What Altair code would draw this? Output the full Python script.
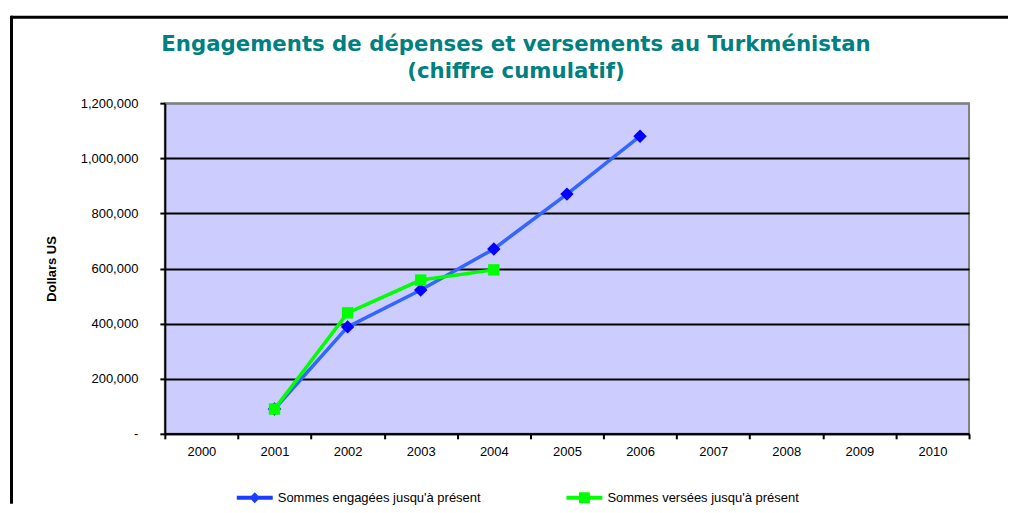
import altair as alt
import pandas as pd

# ---- data ----
years = [str(y) for y in range(2000, 2011)]
series_names = ["Sommes engagées jusqu'à présent", "Sommes versées jusqu'à présent"]

engagees_years = ["2001", "2002", "2003", "2004", "2005", "2006"]
engagees_vals = [90000, 388000, 522000, 671000, 870000, 1080000]

versees_years = ["2001", "2002", "2003", "2004"]
versees_vals = [90000, 439000, 558000, 595000]

y_ticks = [0, 200000, 400000, 600000, 800000, 1000000, 1200000]

title_lines = ["Engagements de dépenses et versements au Turkménistan", "(chiffre cumulatif)"]
y_title = "Dollars US"

line_colors = ["#3366FF", "#00FF00"]
marker_colors = ["#0000FF", "#00FF00"]
marker_shapes = ["diamond", "square"]
marker_sizes = [180, 130]
legend_shapes = [
    "M-1,-0.11L1,-0.11L1,0.11L-1,0.11Z M0,-0.3L0.3,0L0,0.3L-0.3,0Z",
    "M-1,-0.11L1,-0.11L1,0.11L-1,0.11Z M-0.3,-0.3L0.3,-0.3L0.3,0.3L-0.3,0.3Z",
]

rows = [{"year": y, "value": v, "series": series_names[0]} for y, v in zip(engagees_years, engagees_vals)]
rows += [{"year": y, "value": v, "series": series_names[1]} for y, v in zip(versees_years, versees_vals)]
df = pd.DataFrame(rows)
df["order"] = df["series"].map({series_names[0]: 0, series_names[1]: 1})

legend_df = pd.DataFrame({"series": series_names, "year": ["2000", "2000"], "value": [-600000, -600000]})

W, H = 805, 331
NB = "\u00a0"

x_enc = alt.X("year:O", scale=alt.Scale(type="band", domain=years, paddingInner=0, paddingOuter=0),
              axis=alt.Axis(title=None, labelAngle=0, tickBand="extent", grid=False))
y_enc = alt.Y("value:Q", scale=alt.Scale(domain=[0, 1200000], nice=False, zero=True),
              axis=alt.Axis(title=y_title, values=y_ticks, grid=True,
                            gridColor={"condition": {"test": "datum.value >= 1200000", "value": "#808080"},
                                       "value": "black"},
                            labelExpr="datum.value == 0 ? '-" + NB * 3 + "' : format(datum.value, ',')"))

one = pd.DataFrame({"a": [0]})
frame_top = alt.Chart(one).mark_rule(stroke="black", strokeWidth=3).encode(
    x=alt.value(-154), x2=alt.value(844), y=alt.value(-86)
)
frame_left = alt.Chart(one).mark_rule(stroke="black", strokeWidth=3).encode(
    x=alt.value(-153.5), y=alt.value(-87.5), y2=alt.value(401)
)

lines = alt.Chart(df).mark_line(strokeWidth=3.5).encode(
    x=x_enc, y=y_enc,
    stroke=alt.Stroke("series:N", scale=alt.Scale(domain=series_names, range=line_colors), legend=None),
    order="order:Q",
)

points = alt.Chart(df).mark_point(filled=True, opacity=1, strokeWidth=0).encode(
    x=x_enc, y=y_enc,
    fill=alt.Fill("series:N", scale=alt.Scale(domain=series_names, range=marker_colors), legend=None),
    shape=alt.Shape("series:N", scale=alt.Scale(domain=series_names, range=marker_shapes), legend=None),
    size=alt.Size("series:N", scale=alt.Scale(domain=series_names, range=marker_sizes), legend=None),
)

leg = alt.Legend(title=None, orient="none", legendX=72, legendY=377, direction="horizontal",
                 symbolSize=1296, labelFontSize=13, labelFont="Liberation Sans", labelColor="black",
                 labelOffset=5, labelLimit=0, columnPadding=85, symbolStrokeWidth=0)
legend_layer = alt.Chart(legend_df).mark_point(filled=True, opacity=1, clip=True, strokeWidth=0).encode(
    x=alt.X("year:O", scale=alt.Scale(type="band", domain=years, paddingInner=0, paddingOuter=0)),
    y=alt.Y("value:Q"),
    fill=alt.Fill("series:N", scale=alt.Scale(domain=series_names, range=["#1A3DFF", "#00FF00"]), legend=leg),
    shape=alt.Shape("series:N", scale=alt.Scale(domain=series_names, range=legend_shapes), legend=leg),
)

chart = alt.layer(frame_top, frame_left, lines, points, legend_layer).resolve_scale(
    fill="independent", shape="independent", size="independent"
).properties(
    width=W, height=H,
    background="white",
    padding={"left": 1, "top": 6, "right": 0, "bottom": 0},
    title=alt.TitleParams(text=title_lines, font="DejaVu Sans", fontSize=21.3, fontWeight="bold",
                          color="#008080", anchor="middle", dx=-51, offset=-68, lineHeight=27),
).configure_view(
    fill="#CCCCFF", stroke="#808080", strokeWidth=2
).configure_axis(
    labelFont="Liberation Sans", labelFontSize=13, labelColor="black",
    titleFont="Liberation Sans", titleFontSize=13, titleFontWeight="bold", titleColor="black",
    domainColor="black", domainWidth=2, tickColor="black", tickWidth=2, tickSize=5,
    gridWidth=2,
).configure_axisY(
    labelPadding=22, titlePadding=22,
).configure_axisX(
    labelPadding=7,
)

chart.save("out.html", embed_options={"renderer": "svg", "actions": False})
